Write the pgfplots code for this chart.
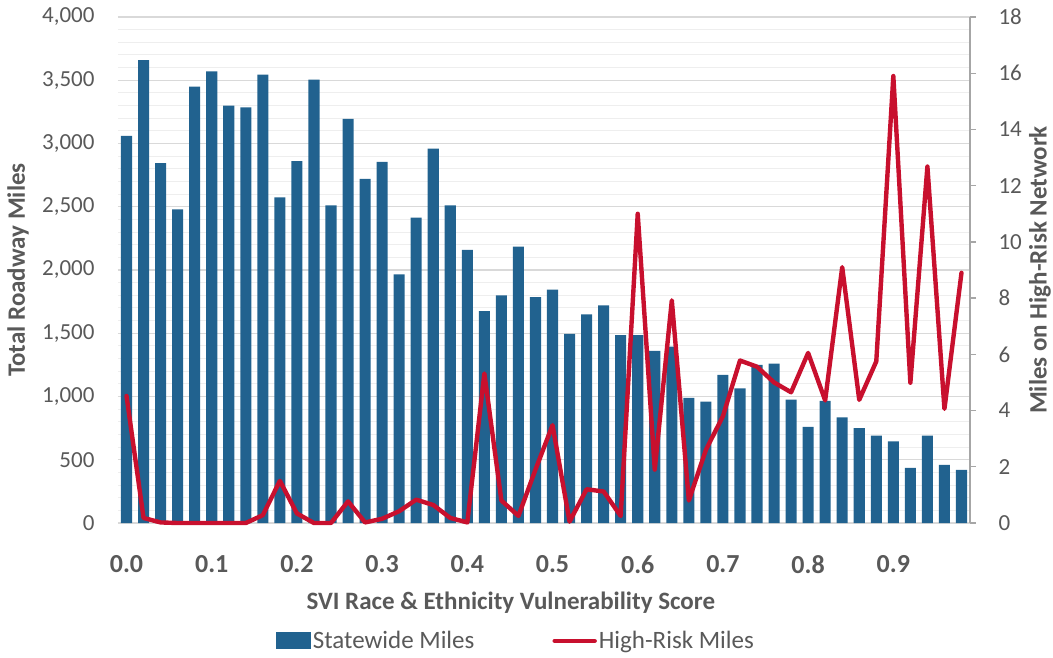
\documentclass[border=0pt]{standalone}
\usepackage{pgfplots}
\pgfplotsset{compat=1.18}
\usepackage{fontspec}
\setmainfont{Carlito}
\definecolor{barblue}{HTML}{21628F}
\definecolor{hrred}{HTML}{C8102E}
\definecolor{txtgray}{HTML}{595959}
\definecolor{gridmaj}{HTML}{D9D9D9}
\definecolor{gridmin}{HTML}{EEEEEE}
\definecolor{axgray}{HTML}{A6A6A6}

\pgfplotstableread{
x y
0.00 3060
0.02 3660
0.04 2845
0.06 2480
0.08 3450
0.10 3570
0.12 3300
0.14 3285
0.16 3545
0.18 2575
0.20 2860
0.22 3505
0.24 2510
0.26 3195
0.28 2720
0.30 2855
0.32 1965
0.34 2415
0.36 2960
0.38 2510
0.40 2160
0.42 1675
0.44 1800
0.46 2185
0.48 1785
0.50 1845
0.52 1495
0.54 1650
0.56 1720
0.58 1485
0.60 1485
0.62 1360
0.64 1395
0.66 990
0.68 960
0.70 1170
0.72 1065
0.74 1250
0.76 1260
0.78 975
0.80 760
0.82 965
0.84 835
0.86 750
0.88 690
0.90 645
0.92 435
0.94 690
0.96 460
0.98 420
}\statewide

\pgfplotstableread{
x y
0.00 4.52
0.02 0.18
0.04 0.02
0.06 0.0
0.08 0.0
0.10 0.0
0.12 0.0
0.14 0.0
0.16 0.28
0.18 1.5
0.20 0.34
0.22 0.0
0.24 0.0
0.26 0.77
0.28 0.02
0.30 0.15
0.32 0.42
0.34 0.83
0.36 0.64
0.38 0.18
0.40 0.02
0.42 5.32
0.44 0.8
0.46 0.25
0.48 1.9
0.50 3.48
0.52 0.05
0.54 1.2
0.56 1.12
0.58 0.25
0.60 11.0
0.62 1.9
0.64 7.92
0.66 0.8
0.68 2.6
0.70 3.8
0.72 5.78
0.74 5.56
0.76 5.0
0.78 4.65
0.80 6.05
0.82 4.36
0.84 9.1
0.86 4.38
0.88 5.75
0.90 15.9
0.92 4.99
0.94 12.68
0.96 4.06
0.98 8.9
}\highrisk

\begin{document}
\begin{tikzpicture}
\useasboundingbox (0,0) rectangle (1053pt,657pt);
\begin{axis}[
  scale only axis, width=852pt, height=506pt,
  at={(118pt,134pt)}, anchor=south west,
  xmin=-0.01, xmax=0.99, ymin=0, ymax=4000,
  axis x line*=bottom, axis y line*=left,
  x axis line style={gridmaj, line width=1.5pt, -},
  y axis line style={draw=none},
  xtick={0,0.1,0.2,0.3,0.4,0.5,0.6,0.7,0.8,0.9},
  xticklabels={0.0,0.1,0.2,0.3,0.4,0.5,0.6,0.7,0.8,0.9},
  ytick={0,500,1000,1500,2000,2500,3000,3500,4000},
  minor y tick num=4,
  major tick length=0pt, minor tick length=0pt,
  ymajorgrids, yminorgrids,
  major grid style={gridmaj, line width=1.2pt},
  minor grid style={gridmin, line width=1pt},
  /pgf/number format/assume math mode=true,
  /pgf/number format/1000 sep={,},
  yticklabel style={font=\fontsize{23}{23}\selectfont, text=txtgray, xshift=-20pt},
  xticklabel style={font=\fontsize{26}{26}\selectfont\bfseries, text=txtgray, yshift=-29pt},
  every axis y label/.style={at={(axis description cs:-0.1174,0.5)}, rotate=90, anchor=center},
  every axis x label/.style={at={(axis description cs:0.461,-0.158)}, anchor=center},
  label style={font=\fontsize{25}{25}\selectfont\bfseries, text=txtgray},
  ylabel={Total Roadway Miles},
  xlabel={SVI Race \& Ethnicity Vulnerability Score},
]
\addplot[ybar, bar width=0.013, fill=barblue, draw=none] table[x=x, y=y] {\statewide};
\end{axis}
\begin{axis}[
  scale only axis, width=852pt, height=506pt,
  at={(118pt,134pt)}, anchor=south west,
  xmin=-0.01, xmax=0.99, ymin=0, ymax=18,
  axis x line=none, axis y line*=right,
  y axis line style={axgray, line width=1.3pt, -},
  ytick={0,2,4,6,8,10,12,14,16,18},
  tick align=outside, major tick length=6pt,
  tick style={axgray, line width=1.3pt},
  clip=false,
  /pgf/number format/assume math mode=true,
  yticklabel style={font=\fontsize{23}{23}\selectfont, text=txtgray, xshift=19pt},
  every axis y label/.style={at={(axis description cs:1.0822,0.5)}, rotate=90, anchor=center},
  label style={font=\fontsize{25}{25}\selectfont\bfseries, text=txtgray},
  ylabel={Miles on High-Risk Network},
  legend columns=2,
  legend style={at={(axis description cs:0.467,-0.233)}, anchor=center, draw=none, fill=none,
    font=\fontsize{25}{25}\selectfont, text=txtgray,
    /tikz/every even column/.append style={column sep=76pt}},
]
\addlegendimage{fill=barblue, draw=none, legend image code/.code={\fill[barblue] (0pt,-8.5pt) rectangle (35pt,8.5pt);}}
\addlegendentry{Statewide Miles}
\addplot[hrred, line width=4.4pt, line join=round, line cap=round,
  legend image code/.code={\draw[hrred, line width=4.4pt] (0pt,0pt) -- (40pt,0pt);}] table[x=x, y=y] {\highrisk};
\addlegendentry{High-Risk Miles}
\end{axis}
\end{tikzpicture}
\end{document}
